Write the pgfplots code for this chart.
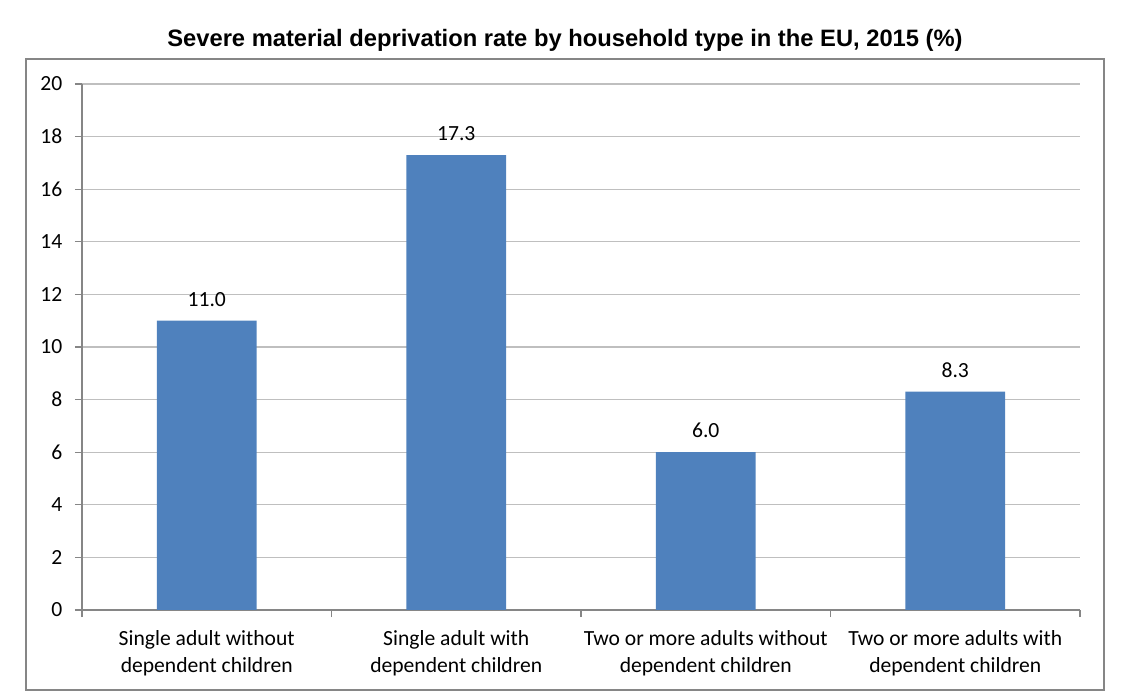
\documentclass[border=0pt]{standalone}
\usepackage{pgfplots}
\pgfplotsset{compat=1.18}
\usepackage{fontspec}
\setmainfont{Carlito}
\newfontfamily\titlefont{Liberation Sans}
\definecolor{barblue}{HTML}{4F81BD}
\definecolor{gridgray}{HTML}{BFBFBF}
\definecolor{axisgray}{HTML}{868686}

\begin{document}
\begin{tikzpicture}
% 1 px of the reference = 0.75pt
\path[use as bounding box] (0pt,0pt) rectangle (843.75pt,525pt);
\draw[axisgray, line width=1.1pt] (19.5pt,7.5pt) rectangle (828pt,480.75pt);
\node[font=\titlefont\bfseries\fontsize{17.8}{21}\selectfont] at (423.75pt,495pt) {Severe material deprivation rate by household type in the EU, 2015 (\%)};
\begin{axis}[
    at={(61.5pt,67.5pt)}, anchor=south west,
    scale only axis, width=748.5pt, height=394.5pt,
    xmin=-0.5, xmax=3.5, ymin=0, ymax=20,
    ytick={0,2,...,20},
    xtick={0,1,2,3},
    xticklabels={Single adult without\\dependent children,
                 Single adult with\\dependent children,
                 Two or more adults without\\dependent children,
                 Two or more adults with\\dependent children},
    minor xtick={-0.5,0.5,1.5,2.5,3.5},
    axis x line*=bottom, axis y line*=left,
    axis line style={axisgray, line width=0.8pt, -},
    every tick/.style={axisgray, line width=0.8pt},
    major x tick style={draw=none},
    tick align=outside,
    major tick length=5.25pt, minor tick length=5.25pt,
    ymajorgrids, grid style={gridgray, line width=0.8pt},
    tick label style={font=\fontsize{16.2}{20}\selectfont},
    x tick label style={align=center, yshift=-6.5pt},
    y tick label style={xshift=-6pt},
    /pgf/number format/assume math mode=true,
    ybar, bar width=0.4,
    nodes near coords,
    every node near coord/.append style={font=\fontsize{16.2}{19}\selectfont, yshift=7pt,
        /pgf/number format/fixed, /pgf/number format/precision=1,
        /pgf/number format/fixed zerofill},
]
\addplot[fill=barblue, draw=none] coordinates {(0,11.0) (1,17.3) (2,6.0) (3,8.3)};
\end{axis}
\end{tikzpicture}
\end{document}
